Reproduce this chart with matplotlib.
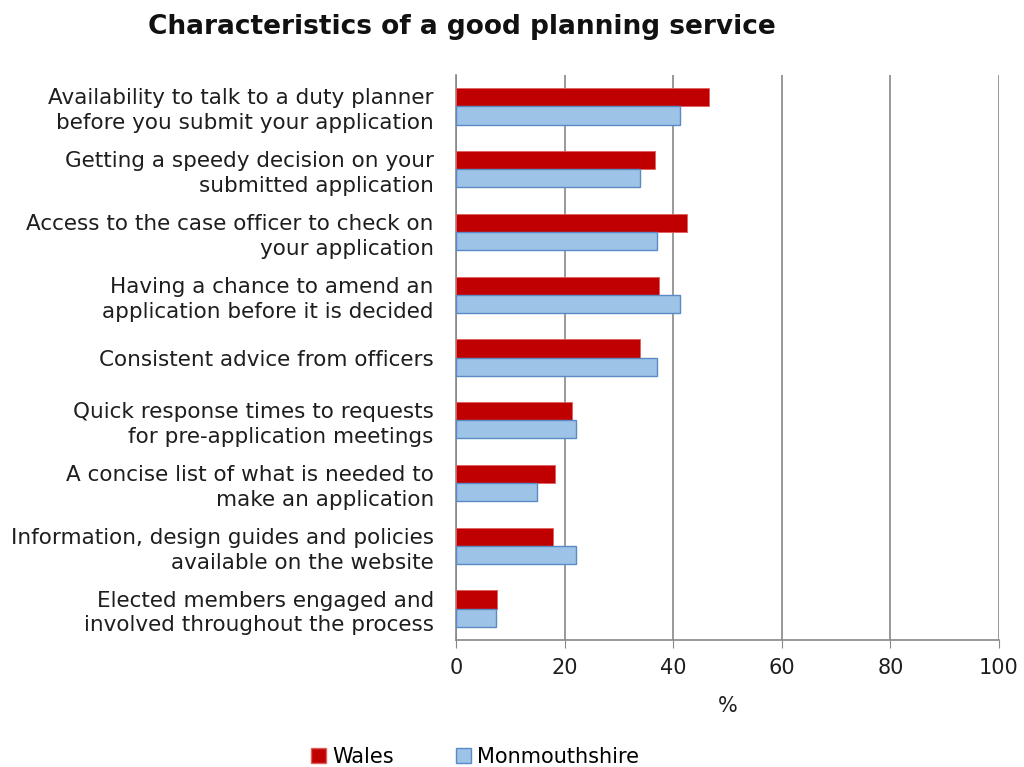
import numpy as np
import matplotlib.pyplot as plt
from matplotlib.patches import Patch

categories = [
    "Availability to talk to a duty planner\nbefore you submit your application",
    "Getting a speedy decision on your\nsubmitted application",
    "Access to the case officer to check on\nyour application",
    "Having a chance to amend an\napplication before it is decided",
    "Consistent advice from officers",
    "Quick response times to requests\nfor pre-application meetings",
    "A concise list of what is needed to\nmake an application",
    "Information, design guides and policies\navailable on the website",
    "Elected members engaged and\ninvolved throughout the process",
]
wales = [46.6, 36.6, 42.5, 37.4, 33.8, 21.3, 18.2, 17.8, 7.6]
monmouthshire = [41.2, 33.9, 37.0, 41.2, 37.0, 22.1, 14.9, 22.1, 7.3]
xticks = [0, 20, 40, 60, 80, 100]

red = "#C00000"
blue_face = "#9DC3E6"
blue_edge = "#5A8AC6"
grid_col = "#878787"
txt = "#1E1E1E"

fig = plt.figure(figsize=(10.24, 7.67), dpi=100)
ax = fig.add_axes([456 / 1024, 1 - 640 / 767, 543 / 1024, 565 / 767])

y = np.arange(len(categories))
h = 0.29
ax.barh(y - h / 2, wales, height=h, color=red, edgecolor="#E06060", linewidth=0.6, zorder=3)
ax.barh(y + h / 2, monmouthshire, height=h, color=blue_face, edgecolor=blue_edge, linewidth=1.0, zorder=3)

ax.set_xlim(0, 100)
ax.set_ylim(len(categories) - 0.5, -0.5)
ax.set_xticks(xticks)
ax.set_xticklabels([str(t) for t in xticks], fontsize=15, color=txt)
ax.set_yticks(y)
ax.set_yticklabels(categories, fontsize=15.5, color=txt, linespacing=1.3)
ax.tick_params(axis="y", length=0, pad=16)
ax.tick_params(axis="x", length=6, color=grid_col, pad=7, direction="out")

for s in ["top", "right"]:
    ax.spines[s].set_visible(False)
for s in ["left", "bottom"]:
    ax.spines[s].set_color(grid_col)
    ax.spines[s].set_linewidth(1.2)

ax.grid(axis="x", color=grid_col, linewidth=1.2, zorder=0)
ax.set_axisbelow(True)

ax.set_xlabel("%", fontsize=15, color=txt, labelpad=13)

fig.text(462 / 1024, 1 - 27 / 767, "Characteristics of a good planning service",
         ha="center", va="center", fontsize=19, fontweight="bold", color="#111111")

handles = [Patch(facecolor=red, edgecolor="#E06060", label="Wales"),
           Patch(facecolor=blue_face, edgecolor=blue_edge, label="Monmouthshire")]
fig.legend(handles=handles, loc="center", bbox_to_anchor=(475 / 1024, 1 - 757 / 767),
           ncol=2, frameon=False, fontsize=15, handlelength=0.7, handleheight=0.7,
           handletextpad=0.3, columnspacing=3.0)

fig.savefig("out.png", dpi=100)
